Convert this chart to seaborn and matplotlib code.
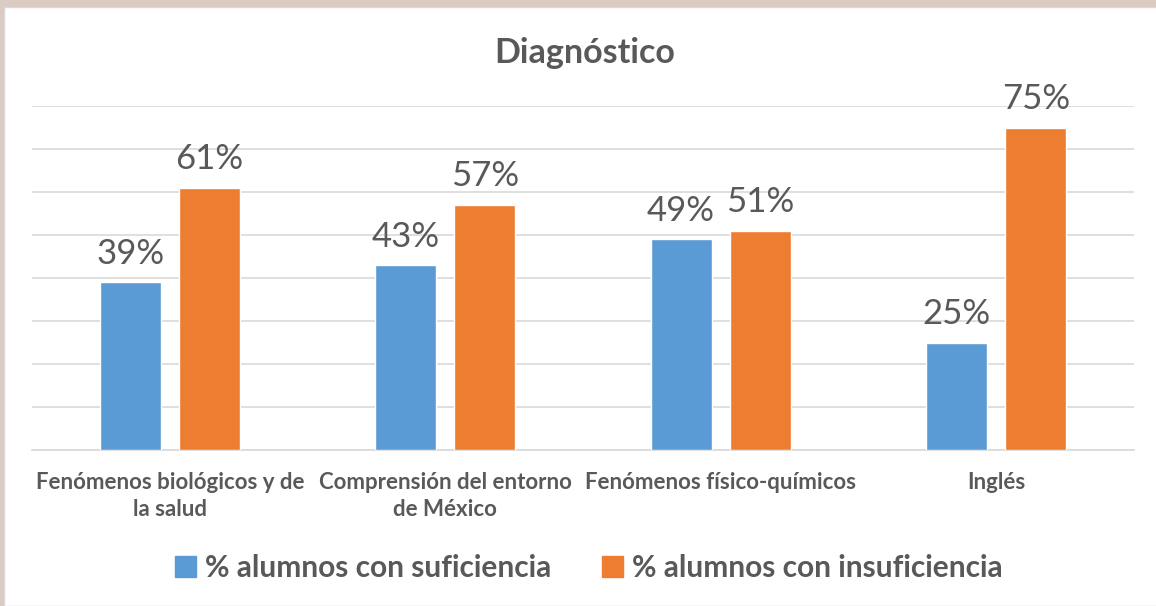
import pandas as pd
import matplotlib.pyplot as plt
import matplotlib.patches as mpatches
import seaborn as sns

categorias = ["Fenómenos biológicos y de\nla salud", "Comprensión del entorno\nde México",
              "Fenómenos físico-químicos", "Inglés"]
suficiencia = [39, 43, 49, 25]
insuficiencia = [61, 57, 51, 75]
series = ["% alumnos con suficiencia", "% alumnos con insuficiencia"]
colores = ["#5b9bd5", "#ed7d31"]

df = pd.DataFrame({
    "Categoria": categorias * 2,
    "Serie": [series[0]] * 4 + [series[1]] * 4,
    "Valor": suficiencia + insuficiencia,
})

sns.set_theme(style="white")
plt.rcParams["font.family"] = ["Lato", "DejaVu Sans"]
TXT = "#595959"

fig = plt.figure(figsize=(11.56, 6.06), dpi=100, facecolor="#dccbc2")
# panel blanco del gráfico (detrás de los ejes)
fig.patches.append(mpatches.Rectangle((4 / 1156, 0), 1, 1 - 7 / 606, transform=fig.transFigure,
                                      facecolor="white", edgecolor="#d9d9d9", linewidth=1, zorder=-5))
ax = fig.add_axes([32 / 1156, 1 - 450 / 606, 1102 / 1156, 344 / 606])
ax.set_facecolor("none")

sns.barplot(data=df, x="Categoria", y="Valor", hue="Serie", palette=colores, saturation=1,
            width=0.576, gap=0.231, ax=ax, zorder=3, legend=False)

for cont in ax.containers:
    ax.bar_label(cont, labels=[f"{v:.0f}%" for v in cont.datavalues], padding=9,
                 fontsize=25, color=TXT)

ax.set_ylim(0, 80)
ax.set_xlim(-0.5, 3.5)
ax.set_yticks(range(0, 81, 10))
ax.yaxis.grid(True, color="#d9d9d9", linewidth=1.2, zorder=0)
ax.set_axisbelow(True)
ax.tick_params(axis="y", left=False, labelleft=False)
ax.tick_params(axis="x", bottom=False, pad=10)
for lbl in ax.get_xticklabels():
    lbl.set_fontsize(16)
    lbl.set_fontweight("bold")
    lbl.set_color(TXT)
    lbl.set_linespacing(1.35)
for s in ["top", "right", "left"]:
    ax.spines[s].set_visible(False)
ax.spines["bottom"].set_color("#d9d9d9")
ax.spines["bottom"].set_linewidth(1.2)
ax.set_xlabel("")
ax.set_ylabel("")

fig.text(585 / 1156, 1 - 53 / 606, "Diagnóstico", ha="center", va="center",
         fontsize=24.5, fontweight="bold", color=TXT)

handles = [mpatches.Patch(color=c, label=s) for c, s in zip(colores, series)]
fig.legend(handles=handles, loc="center", bbox_to_anchor=(589 / 1156, 1 - 568 / 606), ncol=2,
           frameon=False, prop={"size": 21.5, "weight": "bold"}, labelcolor=TXT,
           handlelength=0.7, handleheight=0.7, handletextpad=0.3, columnspacing=1.7)

fig.savefig("out.png", dpi=100, facecolor=fig.get_facecolor())
